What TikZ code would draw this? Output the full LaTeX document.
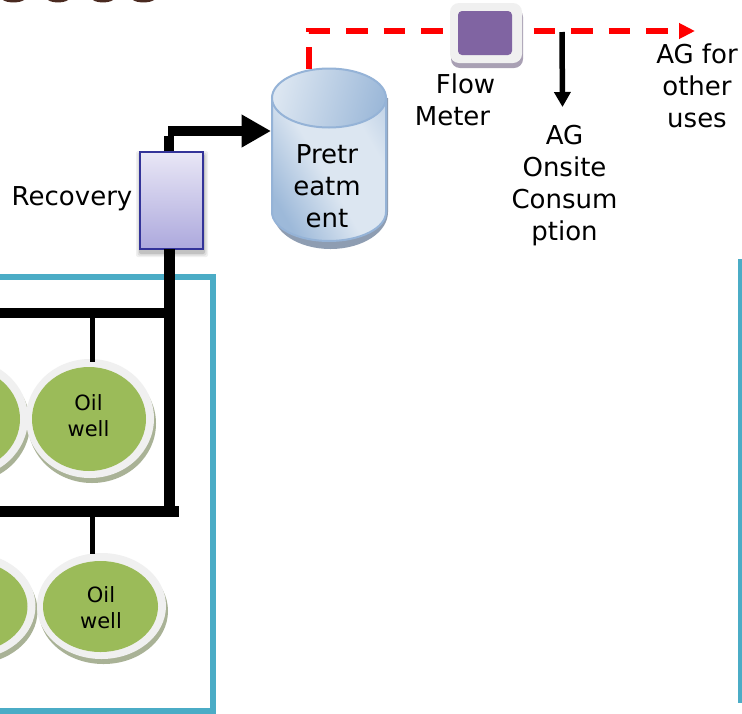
\documentclass[tikz,border=0pt]{standalone}
\usepackage{fontspec}
\setmainfont{DejaVu Sans}
\usetikzlibrary{arrows.meta}
\definecolor{teal}{HTML}{4BACC6}
\definecolor{wellgreen}{HTML}{9BBB59}
\definecolor{wellrim}{HTML}{F0F0F0}
\definecolor{wellshadow}{HTML}{A9B296}
\definecolor{cyledge}{HTML}{95B3D7}
\definecolor{cylshadow}{HTML}{8E9DB2}
\definecolor{cyldark}{HTML}{9DB9D9}
\definecolor{cyllight}{HTML}{DCE6F1}
\definecolor{boxedge}{HTML}{333399}
\definecolor{boxtop}{HTML}{E9E7F6}
\definecolor{boxbot}{HTML}{ADA9DD}
\definecolor{metershadow}{HTML}{A9A0B4}
\definecolor{meterfill}{HTML}{8064A2}
\definecolor{blob}{HTML}{4A2A20}
\pgfdeclarehorizontalshading{tankbody}{100bp}{
  color(0bp)=(cyldark); color(25bp)=(cyldark); color(48bp)=(cyllight); color(70bp)=(cyllight); color(100bp)=(cyldark)}
\tikzset{
  lbl/.style={font=\fontsize{26}{32}\selectfont, align=center, text=black, inner sep=0pt},
  welltext/.style={font=\fontsize{21}{25.5}\selectfont, align=center, text=black, inner sep=0pt},
  pipe/.style={line width=10.5pt, black},
  feed/.style={line width=5pt, black},
  gaspipe/.style={line width=5.4pt, red, dash pattern=on 21.7pt off 15.8pt},
  tealline/.style={line width=5.5pt, teal},
  anchorbox/.style={inner sep=0pt, outer sep=0pt, minimum width=#1},
}
\newcommand{\oilwell}[5]{% name, cx, cy, rim rx, rim ry
  \fill[wellshadow] (#2+2,#3+5) ellipse [x radius=#4, y radius=#5];
  \fill[wellrim] (#2,#3) ellipse [x radius=#4, y radius=#5];
  \fill[wellgreen] (#2-1,#3+0.5) ellipse [x radius=#4-7, y radius=#5-7.5];
}
\begin{document}
\begin{tikzpicture}[x=1pt,y=-1pt]
\useasboundingbox (0,0) rectangle (742,713);
\fill[white] (0,0) rectangle (742,713);
% brown remains along the top edge
\foreach \a/\b in {3/24,48/68,93/113,133/154}{
  \fill[blob] (\a,0) .. controls (\a+4,3.2) and (\b-4,3.2) .. (\b,0) -- cycle;
}
% teal frames
\draw[tealline] (-5,277) -- (213,277) -- (213,711) -- (-5,711);
\draw[line width=5pt, teal] (740,259) -- (740,703);

% wells
\oilwell{w0}{-36}{418.5}{64}{59.5}
\oilwell{w1}{90}{418.5}{64}{59.5}
\oilwell{w2}{-29}{606}{64.5}{53}
\oilwell{w3}{101.5}{606}{64.5}{53}
\node[welltext] (well1) at (88.5,415.5) {Oil\\well};
\node[welltext] (well2) at (101,607.5) {Oil\\well};
\coordinate (well1top) at (92.5,362);
\coordinate (well2top) at (92.5,554);

% header pipes
\coordinate (hdr1l) at (-5,313);
\coordinate (hdr1r) at (169.5,313);
\coordinate (hdr2l) at (-5,511.5);
\coordinate (hdr2r) at (179,511.5);
\coordinate (hdr1t) at (92.5,313);
\coordinate (hdr2t) at (92.5,511.5);
\draw[feed] (hdr1t) -- (well1top);
\draw[feed] (hdr2t) -- (well2top);
\draw[pipe] (hdr1l) -- (hdr1r);
\draw[pipe] (hdr2l) -- (hdr2r);

% recovery
\foreach \o/\s in {0.06/4,0.08/2.5,0.12/1}{
  \fill[black,opacity=\o,rounded corners=2pt] (139+1-\s,151+4-\s) rectangle (203+1+\s,249+4+\s);
}
\node[anchorbox=63pt, minimum height=97pt, draw=boxedge, line width=2pt, top color=boxtop, bottom color=boxbot] (rec) at (171,200) {};
\node[lbl, anchor=east] (reclbl) at (132.5,198.5) {Recovery};

% pretreatment tank
\fill[cylshadow] (273,98) -- (388,98) -- (388,212) arc[start angle=0,end angle=180,x radius=57.5,y radius=37] -- cycle;
\path[draw=cyledge, line width=2pt, shade, shading=tankbody, shading angle=30]
  (272,98) -- (272,212) arc[start angle=180,end angle=0,x radius=57,y radius=29] -- (386,98) -- cycle;
\path[draw=cyledge, line width=2pt, left color=cyllight, right color=cyldark, shading angle=75]
  (329,98) ellipse [x radius=57, y radius=29.5];
\node[anchorbox=115pt, minimum height=173pt] (pre) at (328.5,155) {};
\node[lbl] (prelbl) at (327,186.5) {Pretr\\eatm\\ent};

% black pipes
\coordinate (recb) at (169.5,249);
\draw[pipe] (recb) -- (169.5,517);
\coordinate (rect) at (169,151);
\coordinate (bend) at (169,131);
\draw[line width=10pt] (rect) -- (169,136);
\draw[line width=10pt, -{Triangle[length=29.5pt,width=31pt]}] (168,131) -- (pre.west |- bend);

% gas line
\coordinate (gasstart) at (309,69);
\coordinate (gascorner) at (309,31);
\coordinate (gasend) at (695,31);
\draw[gaspipe, -{Triangle[length=16pt,width=15pt,sep=0pt]}] (gasstart) -- (gascorner) -- (gasend);

% flow meter
\fill[metershadow, rounded corners=9pt] (451,8) rectangle (523,68);
\node[anchorbox=72pt, minimum height=60pt, fill=wellrim, rounded corners=9pt] (meter) at (486,33) {};
\node[anchorbox=54pt, minimum height=44pt, fill=meterfill, rounded corners=4pt] (meterin) at (485,33) {};
\node[lbl] (meterlbl) at (452.5,99.5) {\hspace*{26pt}Flow\\Meter};

% onsite branch
\coordinate (branch) at (562,32);
\coordinate (onsite) at (562.5,107);
\draw[line width=5.5pt, -{Triangle[length=15pt,width=16pt]}] (branch) -- (onsite);
\node[lbl] (onsitelbl) at (564.5,185.5) {AG\\Onsite\\Consum\\ption};
\node[lbl] (otherlbl) at (697,85.5) {AG for\\other\\uses};
\end{tikzpicture}
\end{document}
